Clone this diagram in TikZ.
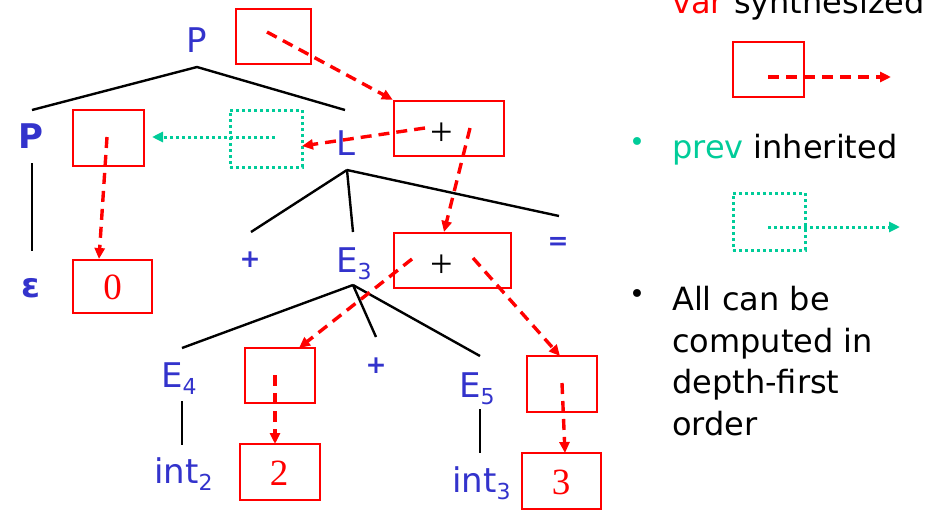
\documentclass[tikz,border=0pt]{standalone}
\usepackage{fontspec}
\setmainfont{DejaVu Sans}
\newfontfamily\serifnum{Liberation Serif}
\usetikzlibrary{arrows.meta}
\definecolor{tblue}{RGB}{51,51,204}
\definecolor{tgreen}{RGB}{0,204,153}
\definecolor{tred}{RGB}{255,0,0}
\newcommand\mysub[1]{\raisebox{-7pt}{\fontsize{22}{22}\selectfont #1}}
\begin{document}
\begin{tikzpicture}[x=1pt,y=-1pt,
  box/.style={draw=tred, line width=2.4pt, rectangle, inner sep=0pt},
  gbox/.style={draw=tgreen, line width=3pt, dash pattern=on 3pt off 3pt, rectangle, inner sep=0pt},
  syn/.style={draw=tred, line width=3.4pt, dash pattern=on 11pt off 7pt, -{Triangle[length=11pt,width=10pt]}},
  inh/.style={draw=tgreen, line width=3pt, dash pattern=on 3pt off 3pt, -{Triangle[length=11pt,width=10pt]}},
  lab/.style={text=tblue, font=\fontsize{34}{34}\selectfont, inner sep=0pt},
  blab/.style={text=tblue, font=\fontsize{34}{34}\selectfont\bfseries, inner sep=0pt},
  sym/.style={text=tblue, font=\fontsize{25}{25}\selectfont\bfseries, inner sep=0pt},
  num/.style={text=tred, font=\serifnum\fontsize{37}{37}\selectfont, inner sep=0pt},
  opr/.style={text=black, font=\serifnum\fontsize{40}{40}\selectfont, inner sep=0pt},
  rt/.style={text=black, font=\fontsize{32}{32}\selectfont, inner sep=0pt, anchor=base west},
  bul/.style={font=\fontsize{27}{27}\selectfont, inner sep=0pt},
  tree/.style={draw=black, line width=2.4pt}
]
\fill[white] (0,0) rectangle (951,509);
\useasboundingbox (0,0) rectangle (951,509);

% tree labels
\node[lab] (P0) at (197,40) {P};
\node[blab] (P1) at (31,136) {P};
\node[blab, anchor=base] (eps) at (31,297) {ε};
\node[lab, anchor=base] (L) at (346,155) {L};
\node[sym] (plusL) at (250,260) {+};
\node[lab, anchor=base west] (E3) at (336,272) {E\mysub{3}};
\node[sym] (eq) at (558,243) {=};
\node[lab, anchor=base west] (E4) at (161,387) {E\mysub{4}};
\node[sym] (plusE) at (376,366) {+};
\node[lab, anchor=base west] (E5) at (459,397) {E\mysub{5}};
\node[lab, anchor=base west] (int2) at (154,483) {int\mysub{2}};
\node[lab, anchor=base west] (int3) at (452,492) {int\mysub{3}};

% tree line junctions
\coordinate (j0) at (197,67);
\coordinate (jP1) at (32,110);
\coordinate (jL) at (345,110);
\coordinate (jP1b) at (32,163);
\coordinate (jeps) at (32,251);
\coordinate (jLb) at (347,170);
\coordinate (jplus) at (251,232);
\coordinate (jE3) at (353,232);
\coordinate (jeq) at (559,216);
\coordinate (jE3b) at (353,285);
\coordinate (jE4) at (182,348);
\coordinate (jplusE) at (376,337);
\coordinate (jE5) at (480,356);
\coordinate (jE4b) at (182,401);
\coordinate (jint2) at (182,445);
\coordinate (jE5b) at (480,409);
\coordinate (jint3) at (480,453);

\draw[tree] (jP1) -- (j0) -- (jL);
\draw[tree] (jP1b) -- (jeps);
\draw[tree] (jLb) -- (jplus);
\draw[tree] (jLb) -- (jE3);
\draw[tree] (jLb) -- (jeq);
\draw[tree] (jE3b) -- (jE4);
\draw[tree] (jE3b) -- (jplusE);
\draw[tree] (jE3b) -- (jE5);
\draw[tree] (jE4b) -- (jint2);
\draw[tree] (jE5b) -- (jint3);

% boxes
\node[box, minimum width=75pt, minimum height=55pt] (btop) at (273.5,36.5) {};
\node[box, minimum width=71pt, minimum height=56pt] (bP) at (108.5,138) {};
\node[gbox, minimum width=72pt, minimum height=57pt] (gL) at (266,138.5) {};
\node[box, minimum width=110pt, minimum height=55pt] (bplus1) at (449,128.5) {};
\node[opr] (op1) at (442,134) {+};
\node[box, minimum width=79pt, minimum height=53pt] (b0) at (112.5,286.5) {};
\node[num] (n0) at (112.5,287) {0};
\node[box, minimum width=117pt, minimum height=55pt] (bplus2) at (452.5,260.5) {};
\node[opr] (op2) at (442,266) {+};
\node[box, minimum width=70pt, minimum height=55pt] (bE4) at (280,375.5) {};
\node[box, minimum width=80pt, minimum height=56pt] (b2) at (280,472) {};
\node[num] (n2) at (279,473) {2};
\node[box, minimum width=70pt, minimum height=56pt] (bE5) at (562,384) {};
\node[box, minimum width=79pt, minimum height=56pt] (b3) at (561.5,481) {};
\node[num] (n3) at (561,482) {3};

% arrow coordinates
\coordinate (s1) at (267,32);
\coordinate (s2) at (425,128);
\coordinate (e2) at (302,146);
\coordinate (s3) at (470,128);
\coordinate (e3) at (444,232);
\coordinate (s4) at (107,137);
\coordinate (e4) at (99,259);
\coordinate (s5) at (412,259);
\coordinate (e5) at (299,348);
\coordinate (s6) at (473,258);
\coordinate (e6) at (560,356);
\coordinate (s7) at (275,375);
\coordinate (e7) at (275,444);
\coordinate (s8) at (562,383);
\coordinate (e8) at (565,453);
\coordinate (s9) at (275,137);
\coordinate (e9) at (152,137);

\draw[syn] (s1) -- (bplus1.north west);
\draw[syn] (s2) -- (e2);
\draw[syn] (s3) -- (e3);
\draw[syn] (s4) -- (e4);
\draw[syn] (s5) -- (e5);
\draw[syn] (s6) -- (e6);
\draw[syn] (s7) -- (e7);
\draw[syn] (s8) -- (e8);
\draw[inh] (s9) -- (e9);

% legend
\node[rt] (t1) at (672,13) {\textcolor{tred}{var} synthesized};
\node[box, minimum width=71pt, minimum height=55pt] (lbox1) at (768.5,69.5) {};
\coordinate (ls1) at (768,77);
\coordinate (le1) at (891,77);
\draw[syn] (ls1) -- (le1);
\node[bul, text=tgreen] (bul1) at (637,145) {•};
\node[rt] (t2) at (672,158) {\textcolor{tgreen}{prev} inherited};
\node[gbox, minimum width=72pt, minimum height=57pt] (lbox2) at (769,221.5) {};
\coordinate (ls2) at (768,227);
\coordinate (le2) at (900,227);
\draw[inh] (ls2) -- (le2);
\node[bul, text=black] (bul2) at (637,297) {•};
\node[rt] (t3) at (672,310) {All can be};
\node[rt] (t4) at (672,352) {computed in};
\node[rt] (t5) at (672,393) {depth-first};
\node[rt] (t6) at (672,435) {order};
\end{tikzpicture}
\end{document}
